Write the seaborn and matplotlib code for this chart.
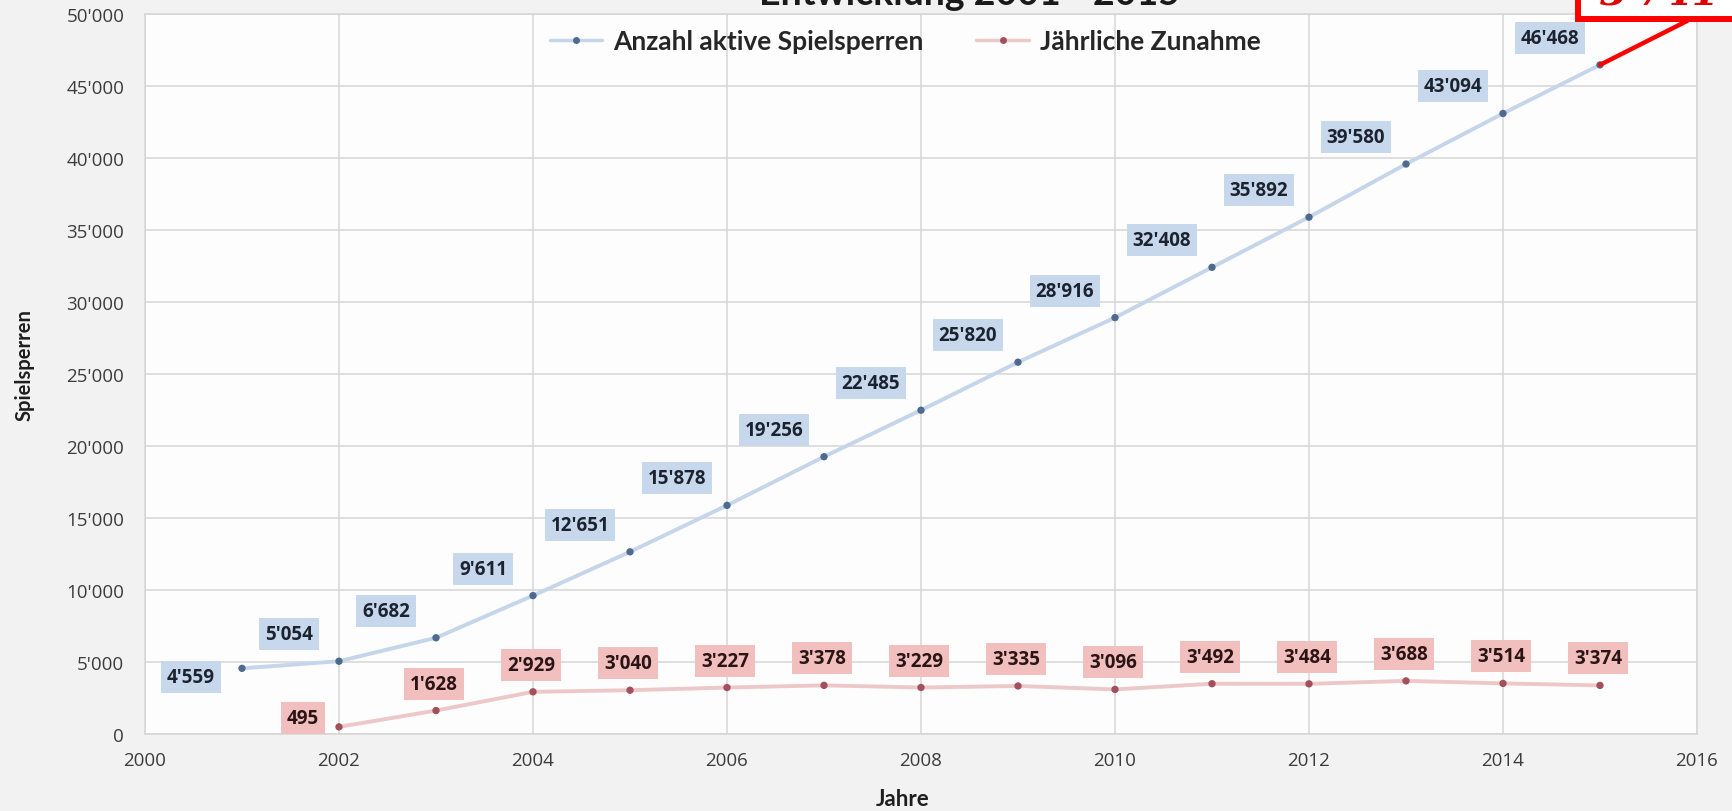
import numpy as np
import pandas as pd
import matplotlib
matplotlib.use("Agg")
import matplotlib.pyplot as plt
import seaborn as sns
from matplotlib.lines import Line2D
from matplotlib.patches import Rectangle
from matplotlib.ticker import FuncFormatter

# ---------------- data ----------------
years_active = [2001, 2002, 2003, 2004, 2005, 2006, 2007, 2008,
                2009, 2010, 2011, 2012, 2013, 2014, 2015]
active = [4559, 5054, 6682, 9611, 12651, 15878, 19256, 22485,
          25820, 28916, 32408, 35892, 39580, 43094, 46468]
years_increase = [2002, 2003, 2004, 2005, 2006, 2007, 2008,
                  2009, 2010, 2011, 2012, 2013, 2014, 2015]
increase = [495, 1628, 2929, 3040, 3227, 3378, 3229,
            3335, 3096, 3492, 3484, 3688, 3514, 3374]
series_names = ["Anzahl aktive Spielsperren", "Jährliche Zunahme"]
x_ticks = [2000, 2002, 2004, 2006, 2008, 2010, 2012, 2014, 2016]
y_ticks = [0, 5000, 10000, 15000, 20000, 25000, 30000, 35000, 40000, 45000, 50000]
title = "Entwicklung 2001 - 2015"
x_label = "Jahre"
y_label = "Spielsperren"
callout_text = "3'741"

# ---------------- style ----------------
W, H = 1733, 812
sns.set_theme(style="whitegrid")
plt.rcParams['font.family'] = ['Open Sans', 'DejaVu Sans']

blue_line = '#c5d5ea'
blue_dot = '#4e6b8f'
blue_box = '#c8d8ec'
red_line = '#ecc8c8'
red_dot = '#a2505e'
red_box = '#f2bfbf'
grid_col = '#d6d6d6'

fig = plt.figure(figsize=(W / 100, H / 100), dpi=100, facecolor='#f2f2f2')
ax = fig.add_axes([145 / W, 77 / H, 1552 / W, 720 / H])
ax.set_facecolor('#fdfdfd')

df_a = pd.DataFrame({'Jahr': years_active, 'Wert': active})
df_i = pd.DataFrame({'Jahr': years_increase, 'Wert': increase})

sns.lineplot(data=df_a, x='Jahr', y='Wert', ax=ax, color=blue_line, lw=2.8, zorder=2)
sns.scatterplot(data=df_a, x='Jahr', y='Wert', ax=ax, color=blue_dot, s=28,
                edgecolor='none', zorder=3)
sns.lineplot(data=df_i, x='Jahr', y='Wert', ax=ax, color=red_line, lw=2.8, zorder=2)
sns.scatterplot(data=df_i, x='Jahr', y='Wert', ax=ax, color=red_dot, s=28,
                edgecolor='none', zorder=3)

ax.set_xlim(2000, 2016)
ax.set_ylim(0, 50000)
ax.set_xticks(x_ticks)
ax.set_yticks(y_ticks)
ax.yaxis.set_major_formatter(FuncFormatter(lambda v, p: f"{int(v):,}".replace(",", "'")))
ax.xaxis.set_major_formatter(FuncFormatter(lambda v, p: f"{int(v)}"))
ax.grid(True, color=grid_col, lw=1.1)
for s in ax.spines.values():
    s.set_color(grid_col)
    s.set_linewidth(1.1)
ax.tick_params(axis='both', length=0, labelsize=13.5, colors='#3c3c3c')
ax.tick_params(axis='y', pad=15)
ax.tick_params(axis='x', pad=12)

ax.set_xlabel(x_label, fontsize=16, fontweight='bold', family=['Lato', 'DejaVu Sans'],
              color='#1e1e1e', va='center')
ax.xaxis.set_label_coords((903 - 145) / 1552, -(800 - 735) / 720)
ax.set_ylabel(y_label, fontsize=14.5, fontweight='bold', family=['Lato', 'DejaVu Sans'],
              color='#1e1e1e', va='center')
ax.yaxis.set_label_coords(-(145 - 25) / 1552, (735 - 365) / 720)

# data labels
lbl_font = dict(fontsize=13.5, fontweight='bold', family=['Open Sans', 'DejaVu Sans'])
fmt = lambda v: f"{v:,}".replace(",", "'")
for i, (x, y) in enumerate(zip(years_active, active)):
    off = (-51, -9) if i == 0 else (-50, 27)
    ax.annotate(fmt(y), (x, y), xytext=off, textcoords='offset pixels',
                ha='center', va='center', color='#1c2330', zorder=4,
                bbox=dict(boxstyle='square,pad=0.32', fc=blue_box, ec='none'), **lbl_font)
for i, (x, y) in enumerate(zip(years_increase, increase)):
    off = (-36, 9) if i == 0 else (-2, 27)
    ax.annotate(fmt(y), (x, y), xytext=off, textcoords='offset pixels',
                ha='center', va='center', color='#2a1414', zorder=4,
                bbox=dict(boxstyle='square,pad=0.32', fc=red_box, ec='none'), **lbl_font)

# legend
handles = [
    Line2D([0], [0], color=blue_line, lw=2.5, marker='o', markerfacecolor=blue_dot,
           markeredgecolor='none', markersize=5),
    Line2D([0], [0], color=red_line, lw=2.5, marker='o', markerfacecolor=red_dot,
           markeredgecolor='none', markersize=5),
]
fig.legend(handles, series_names, loc='center', bbox_to_anchor=(905 / W, 1 - 42 / H),
           ncol=2, frameon=False, handlelength=2.0, columnspacing=2.0, handletextpad=0.4,
           prop=dict(family=['Lato', 'DejaVu Sans'], weight='bold', size=19))

# title (cut off at the top, as in the reference)
fig.text(970 / W, 1 - 5 / H, title, ha='center', va='baseline', fontsize=27,
         fontweight='bold', family=['Lato', 'DejaVu Sans'], color='#1a1a1a')

# red callout box (cut off at the top / right)
fig.patches.append(Rectangle((1578 / W, 1 - 20 / H), 0.2, 0.1, transform=fig.transFigure,
                             fc='white', ec='#ff0000', lw=4.3, clip_on=False, zorder=5))
fig.text(1600 / W, 1 - 6 / H, callout_text, ha='left', va='baseline', fontsize=28,
         fontweight='bold', style='italic', family=['DejaVu Serif'], color='#e00000', zorder=6)
ax.annotate('', xy=(years_active[-1], active[-1]), xycoords='data',
            xytext=(1687, H - 22), textcoords='figure pixels', annotation_clip=False,
            arrowprops=dict(arrowstyle='-', color='#ff0000', lw=3.2, shrinkA=0, shrinkB=0))

fig.savefig('out.png', dpi=100, facecolor=fig.get_facecolor())
